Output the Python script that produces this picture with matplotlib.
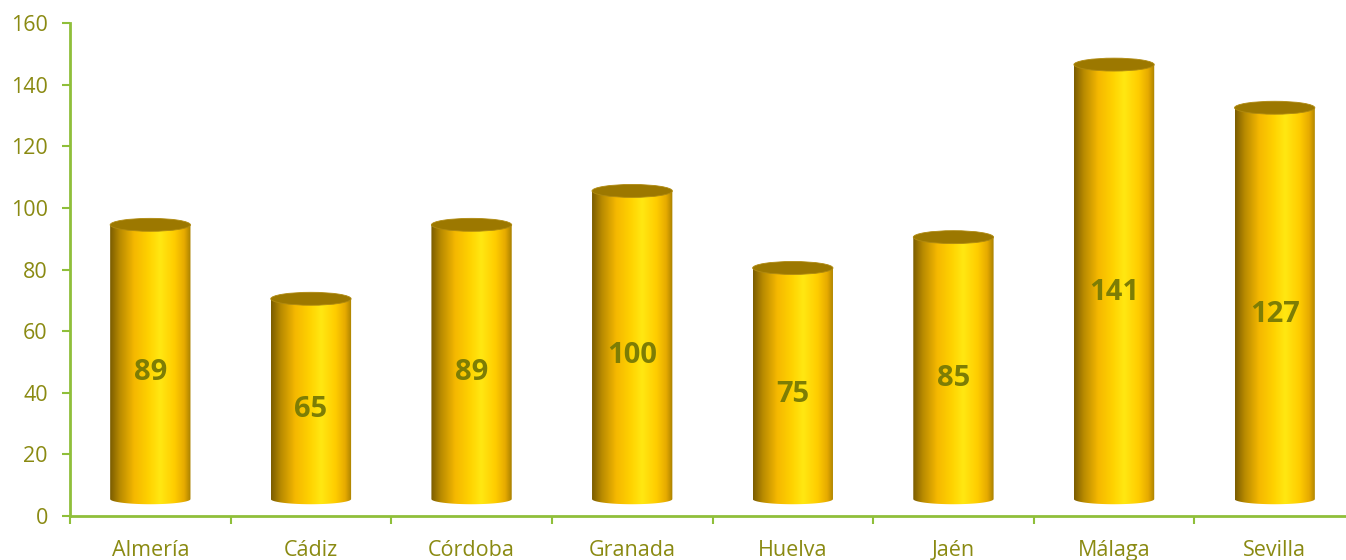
import numpy as np
import matplotlib.pyplot as plt
from matplotlib.path import Path
from matplotlib.patches import Ellipse
from matplotlib.colors import LinearSegmentedColormap

# Data
provinces = ['Almería', 'Cádiz', 'Córdoba', 'Granada', 'Huelva', 'Jaén', 'Málaga', 'Sevilla']
values = [89, 65, 89, 100, 75, 85, 141, 127]
y_ticks = [0, 20, 40, 60, 80, 100, 120, 140, 160]

# Style
BASE = 5.5        # 3D floor offset of the cylinders
WIDTH = 0.5
ELL_H = 4.2       # ellipse height in data units
AXIS_COLOR = '#8fbf3a'
TICK_COLOR = '#8a8a12'
LABEL_COLOR = '#7d7d05'

plt.rcParams['font.family'] = ['Open Sans', 'DejaVu Sans']

gold = LinearSegmentedColormap.from_list('gold', [
    (0.00, '#7a5c00'),
    (0.12, '#b88a00'),
    (0.30, '#f5b800'),
    (0.48, '#ffd200'),
    (0.62, '#ffe812'),
    (0.80, '#ffcc00'),
    (0.92, '#e6aa00'),
    (1.00, '#a88000'),
])
grad = np.linspace(0, 1, 256).reshape(1, -1)

fig = plt.figure(figsize=(13.46, 5.6), dpi=100)
# axes extends a bit past the right edge like the original
ax = fig.add_axes([70 / 1346, 44 / 560, 1285 / 1346, 493 / 560])

for i, v in enumerate(values):
    x0, x1 = i - WIDTH / 2, i + WIDTH / 2
    top = BASE + v
    # body outline: straight sides + rounded bottom
    t = np.linspace(np.pi, 2 * np.pi, 60)
    arc = np.column_stack([i + WIDTH / 2 * np.cos(t), BASE + ELL_H / 2 * 0.8 * np.sin(t)])
    verts = np.vstack([[x0, top], arc, [x1, top], [x0, top]])
    codes = [Path.MOVETO] + [Path.LINETO] * (len(verts) - 2) + [Path.CLOSEPOLY]
    body = Path(verts, codes)
    im = ax.imshow(grad, cmap=gold, aspect='auto', interpolation='bicubic',
                   extent=[x0, x1, BASE - ELL_H, top], zorder=2)
    im.set_clip_path(body, transform=ax.transData)
    # top ellipse
    ax.add_patch(Ellipse((i, top), WIDTH, ELL_H, facecolor='#9c7800',
                         edgecolor='#b08a10', linewidth=0.6, zorder=3))
    ax.text(i, v / 2 + 2, str(v), ha='center', va='center', fontsize=21,
            fontweight='bold', color=LABEL_COLOR, zorder=4)

ax.set_xlim(-0.5, len(values) - 0.5)
ax.set_ylim(0, 160)
ax.set_yticks(y_ticks)
ax.set_xticks(np.arange(len(values)))
ax.set_xticklabels(provinces)
ax.set_xticks(np.arange(len(values)) - 0.5, minor=True)

for s in ['top', 'right']:
    ax.spines[s].set_visible(False)
for s in ['left', 'bottom']:
    ax.spines[s].set_color(AXIS_COLOR)
    ax.spines[s].set_linewidth(2)

ax.tick_params(axis='y', colors=AXIS_COLOR, labelcolor=TICK_COLOR,
               labelsize=15.5, length=6, width=1.5, pad=10)
ax.tick_params(axis='x', which='major', length=0, labelcolor=TICK_COLOR,
               labelsize=15.5, pad=17)
ax.tick_params(axis='x', which='minor', colors=AXIS_COLOR, length=6, width=1.5)

fig.savefig('out.png', dpi=100)
